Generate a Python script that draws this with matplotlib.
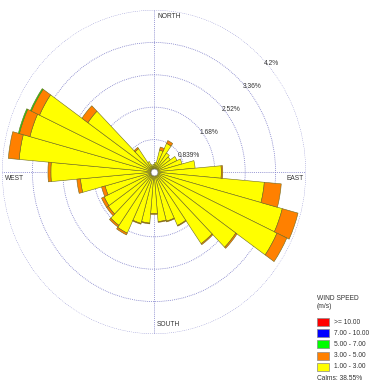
import numpy as np
import matplotlib.pyplot as plt
from matplotlib.patches import Rectangle

# wind rose: frequency (%) per 10-degree sector, stacked by speed class
directions = np.arange(0, 360, 10)
spd_1_3 = [0.20, 0.25, 0.59, 0.82, 0.60, 0.55, 0.70, 0.80, 1.14, 1.86,
           3.06, 3.67, 3.75, 2.76, 2.27, 1.53, 1.32, 1.29, 1.08, 1.33,
           1.38, 1.75, 1.69, 1.54, 1.52, 1.40, 2.04, 2.85, 3.74, 3.55,
           3.49, 2.23, 0.74, 0.30, 0.20, 0.15]
spd_3_5 = [0.00, 0.00, 0.08, 0.08, 0.00, 0.00, 0.00, 0.00, 0.00, 0.04,
           0.47, 0.45, 0.30, 0.04, 0.03, 0.02, 0.02, 0.02, 0.02, 0.02,
           0.02, 0.05, 0.05, 0.06, 0.08, 0.10, 0.10, 0.08, 0.30, 0.30,
           0.25, 0.20, 0.04, 0.00, 0.00, 0.00]
spd_5_7 = [0.0] * 29 + [0.03, 0.03] + [0.0] * 5
spd_7_10 = [0.0] * 36
spd_10p = [0.0] * 36

ring_values = [0.839, 1.68, 2.52, 3.36, 4.2]
ring_labels = ["0.839%", "1.68%", "2.52%", "3.36%", "4.2%"]
class_labels = [">= 10.00", "7.00 - 10.00", "5.00 - 7.00", "3.00 - 5.00", "1.00 - 3.00"]
calms = 38.55

colors = ["#ffff00", "#ff8000", "#00ff00", "#0000ff", "#ff0000"]
classes = [spd_1_3, spd_3_5, spd_5_7, spd_7_10, spd_10p]

fig = plt.figure(figsize=(3.87, 3.85), dpi=100)
W, H = 387, 385
ax = fig.add_axes([2 / W, 1 - 334 / H, 304 / W, 324 / H], projection="polar")
ax.set_aspect("auto")
ax.set_theta_zero_location("N")
ax.set_theta_direction(-1)

theta = np.deg2rad(directions)
width = np.deg2rad(10)
bottom = np.zeros(len(directions))
for vals, c in zip(classes, colors):
    vals = np.array(vals)
    nz = vals > 0  # skip empty classes so they leave no outline
    if nz.any():
        ax.bar(theta[nz], vals[nz], width=width, bottom=bottom[nz], color=c,
               edgecolor="#6e6a1e", linewidth=0.4, zorder=3)
    bottom = bottom + vals

ax.set_ylim(0, 4.2)
ax.set_rgrids(ring_values, labels=[""] * len(ring_values))
ax.set_thetagrids([0, 90, 180, 270], labels=[""] * 4)
ax.grid(True, color="#7c7cc8", linestyle=(0, (1, 1.3)), linewidth=0.6)
ax.spines["polar"].set_visible(False)
ax.plot(0, 0, "o", ms=5, mfc="white", mec="#888888", mew=0.5, zorder=5)

for r, lab in zip(ring_values, ring_labels):
    ax.annotate(lab, (np.deg2rad(45), r), xytext=(2, -4.5),
                textcoords="offset points", ha="left", va="center",
                fontsize=4.8, color="#333333", family="Liberation Sans", zorder=6)

txt = dict(fontsize=4.8, color="#333333", family="Liberation Sans", transform=ax.transAxes)
ax.text(0.51, 0.981, "NORTH", ha="left", va="center", **txt)
ax.text(0.51, 0.028, "SOUTH", ha="left", va="center", **txt)
ax.text(0.993, 0.481, "EAST", ha="right", va="center", **txt)
ax.text(0.01, 0.481, "WEST", ha="left", va="center", **txt)

# legend panel in pixel coordinates
lg = fig.add_axes([0, 0, 1, 1], facecolor="none")
lg.set_xlim(0, W)
lg.set_ylim(H, 0)
lg.axis("off")
ltxt = dict(fontsize=4.8, color="#333333", family="Liberation Sans", va="center")
lg.text(317, 298, "WIND SPEED", ha="left", **ltxt)
lg.text(317, 307, "(m/s)", ha="left", **ltxt)
for i, (lab, c) in enumerate(zip(class_labels, colors[::-1])):
    y = 322 + i * 11.2
    lg.add_patch(Rectangle((317, y - 4), 12, 8, facecolor=c, edgecolor="#888888", linewidth=0.5))
    lg.text(334, y, lab, ha="left", **ltxt)
lg.text(317, 379, "Calms: %.2f%%" % calms, ha="left", **ltxt)

fig.savefig("out.png", dpi=100)
